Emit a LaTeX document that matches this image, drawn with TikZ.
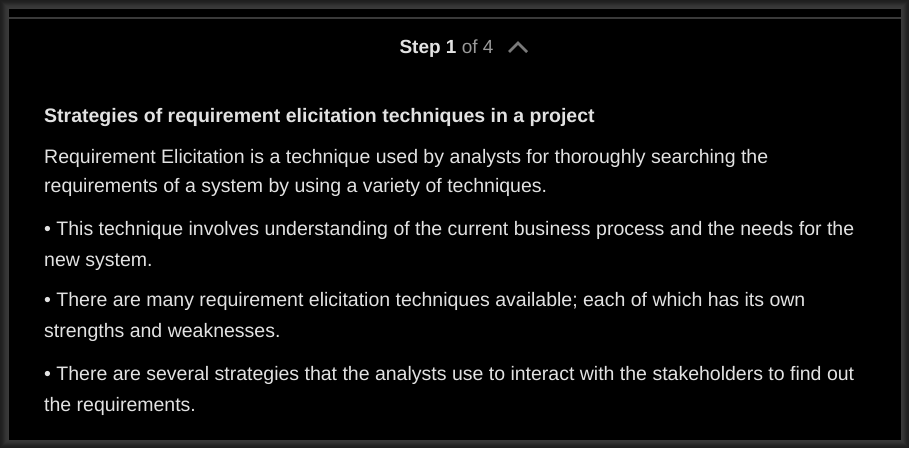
\documentclass[tikz,border=0pt]{standalone}
\usepackage{fontspec}
\setmainfont{Liberation Sans}
\begin{document}
\begin{tikzpicture}[x=1pt,y=-1pt,
  body/.style={anchor=base west,inner sep=0pt,text=txt,font=\fontsize{19.5}{22}\selectfont},
  heading/.style={body,font=\fontsize{19.5}{22}\selectfont\bfseries}]
\definecolor{txt}{HTML}{E2E2E2}
\definecolor{dim}{HTML}{9A9A9A}
\definecolor{chev}{HTML}{7A7A7A}
\definecolor{rule}{HTML}{3A3A3A}
\useasboundingbox (0,0) rectangle (909,448);
\fill[black!88] (0,0) rectangle (909,448);
\foreach \i/\c in {1/87,2/86,3/84,4/82,5/80,6/79,7/78,8/77}
  \fill[black!\c] (\i,\i) rectangle (909-\i,448-\i);
\fill[black] (9,9) rectangle (901,440);
\draw[rule,line width=2pt] (9,17.5) -- (901,17.5);
\node (step) [anchor=base,inner sep=0pt,font=\fontsize{19}{22}\selectfont] at (446.5,53) {\textcolor{txt}{\bfseries Step 1} \textcolor{dim}{of 4}};
\draw[chev,line width=2.6pt] (509,52) -- (518,43) -- (527,52);
\node (h)  [heading] at (44,122) {Strategies of requirement elicitation techniques in a project};
\node (l1) [body] at (44,163) {Requirement Elicitation is a technique used by analysts for thoroughly searching the};
\node (l2) [body] at (44,192) {requirements of a system by using a variety of techniques.};
\node (l3) [body] at (44,235) {• This technique involves understanding of the current business process and the needs for the};
\node (l4) [body] at (44,266) {new system.};
\node (l5) [body] at (44,306) {• There are many requirement elicitation techniques available; each of which has its own};
\node (l6) [body] at (44,337) {strengths and weaknesses.};
\node (l7) [body] at (44,380) {• There are several strategies that the analysts use to interact with the stakeholders to find out};
\node (l8) [body] at (44,411) {the requirements.};
\end{tikzpicture}
\end{document}
